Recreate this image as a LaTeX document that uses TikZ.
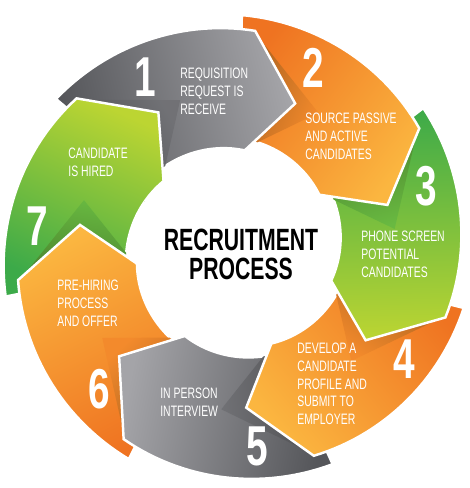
\documentclass[tikz,border=0pt]{standalone}
\usepackage{fontspec}
\setmainfont{Liberation Sans}
\newfontfamily\condfont[FakeStretch=0.69]{Liberation Sans}
\usetikzlibrary{calc}

\definecolor{greydark}{HTML}{55565A}
\definecolor{greylight}{HTML}{A4A4A8}
\definecolor{orangedark}{HTML}{EF7321}
\definecolor{orangelight}{HTML}{FBB640}
\definecolor{greendark}{HTML}{3CAA49}
\definecolor{greenlight}{HTML}{BCD532}

\tikzset{
  ringpart/.style={draw=white, line width=1.4pt, line join=miter},
  steplabel/.style={text=white, font=\condfont\fontsize{8.6}{10.1}\selectfont, align=left, anchor=north west, inner sep=0pt},
  stepnum/.style={text=white, font=\condfont\bfseries\fontsize{32}{32}\selectfont, inner sep=0pt},
  titletext/.style={font=\condfont\bfseries\fontsize{17.5}{16.2}\selectfont, align=center, inner sep=0pt},
}

\begin{document}
\begin{tikzpicture}[x=0.02cm, y=0.02cm]
  \useasboundingbox (0,0) rectangle (470,488);

  % ring of seven arrows, drawn from 7 back to 1
  \begin{scope}[shift={(236,238)}]
    \foreach \i/\ca/\cb in {7/greendark/greenlight, 6/orangedark/orangelight, 5/greydark/greylight, 4/orangedark/orangelight, 3/greendark/greenlight, 2/orangedark/orangelight, 1/greydark/greylight}{
      \pgfmathsetmacro{\sa}{140-(\i-1)*360/7}
      \pgfmathsetmacro{\ea}{\sa-55}
      \pgfmathsetmacro{\ta}{\sa-72}
      \pgfmathsetmacro{\ang}{\sa-216}
      \pgfmathsetmacro{\pe}{\sa-3.57}
      \pgfmathsetmacro{\pt}{\sa-20.57}
      \pgfmathsetmacro{\pf}{\sa-29.57}
      \pgfmathsetmacro{\fang}{\pt-180}
      \shade[ringpart, top color=\cb, bottom color=\ca, shading angle=\ang]
        plot[domain=\sa:\ea, samples=30] (\x:{235-15*(\sa-(\x))/55})
        -- (\ta:158)
        -- plot[domain=\ea:\sa, samples=30] (\x:{100+12*((\x)-(\ea))/55})
        -- cycle;
      % fold under the previous arrow tip
      \begin{scope}
        \clip plot[domain=\sa:\ea, samples=30] (\x:{235-15*(\sa-(\x))/55})
          -- (\ta:158)
          -- plot[domain=\ea:\sa, samples=30] (\x:{100+12*((\x)-(\ea))/55})
          -- cycle;
        \shade[top color=\ca!65!\cb, bottom color=\ca!65!\cb!70!black, shading angle=\fang]
          (\pe:218) -- (\pf:160) -- (\pe:102) -- (\pt:158) -- cycle;
      \end{scope}
    }
    % arrow 7 lies over the start of arrow 1
    \begin{scope}
      \clip (0,0) -- (152:260) -- (104:260) -- cycle;
      \pgfmathsetmacro{\sa}{140-6*360/7}
      \pgfmathsetmacro{\ea}{\sa-55}
      \pgfmathsetmacro{\ta}{\sa-72}
      \pgfmathsetmacro{\ang}{\sa-216}
      \shade[ringpart, top color=greenlight, bottom color=greendark, shading angle=\ang]
        plot[domain=\sa:\ea, samples=30] (\x:{235-15*(\sa-(\x))/55})
        -- (\ta:158)
        -- plot[domain=\ea:\sa, samples=30] (\x:{100+12*((\x)-(\ea))/55})
        -- cycle;
    \end{scope}
  \end{scope}

  % numbers
  \node[stepnum] (num1) at (145,411) {1};
  \node[stepnum] (num2) at (313,420) {2};
  \node[stepnum] (num3) at (426,302) {3};
  \node[stepnum] (num4) at (404,129) {4};
  \node[stepnum] (num5) at (257,42) {5};
  \node[stepnum] (num6) at (99,99) {6};
  \node[stepnum] (num7) at (37,262) {7};

  % step texts
  \node[steplabel] (lbl1) at (180,420) {REQUISITION\\REQUEST IS\\RECEIVE};
  \node[steplabel] (lbl2) at (305,375.3) {SOURCE PASSIVE\\AND ACTIVE\\CANDIDATES};
  \node[steplabel] (lbl3) at (361,257) {PHONE SCREEN\\POTENTIAL\\CANDIDATES};
  \node[steplabel] (lbl4) at (297,145.3) {DEVELOP A\\CANDIDATE\\PROFILE AND\\SUBMIT TO\\EMPLOYER};
  \node[steplabel] (lbl5) at (160,100) {IN PERSON\\INTERVIEW};
  \node[steplabel] (lbl6) at (57,208) {PRE-HIRING\\PROCESS\\AND OFFER};
  \node[steplabel] (lbl7) at (68,340.3) {CANDIDATE\\IS HIRED};

  \node[titletext] (title) at (241,233.5) {RECRUITMENT\\PROCESS};
\end{tikzpicture}
\end{document}
